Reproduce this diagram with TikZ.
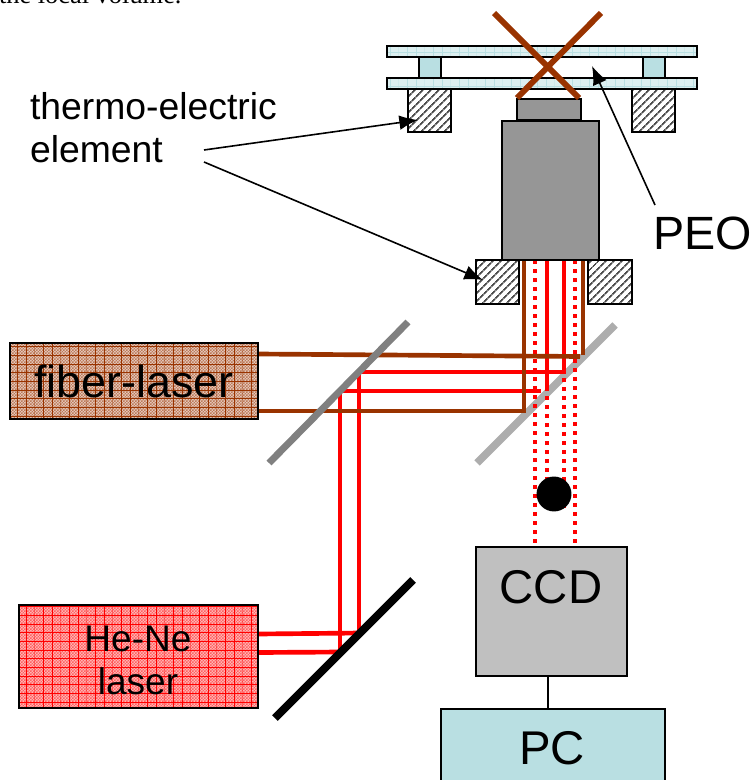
\documentclass[tikz,border=0pt]{standalone}
\usepackage{fontspec}
\setmainfont{Liberation Sans}
\newfontfamily\timesf{Liberation Serif}
\usetikzlibrary{patterns,patterns.meta,arrows.meta}
\definecolor{brownbeam}{HTML}{993300}
\definecolor{hegray}{HTML}{969696}
\definecolor{ccdgray}{HTML}{C0C0C0}
\definecolor{pcblue}{HTML}{B9DFE2}
\pgfdeclarepatternformonly{ditherp}{\pgfqpoint{-0.1pt}{-0.1pt}}{\pgfqpoint{2.35pt}{2.35pt}}{\pgfqpoint{2.25pt}{2.25pt}}{%
  \pgfpathrectangle{\pgfqpoint{0pt}{0pt}}{\pgfqpoint{1.125pt}{1.125pt}}%
  \pgfpathrectangle{\pgfqpoint{1.125pt}{1.125pt}}{\pgfqpoint{1.125pt}{1.125pt}}%
  \pgfusepath{fill}}
\pgfdeclarepatternformonly{gridp}{\pgfqpoint{-0.1pt}{-0.1pt}}{\pgfqpoint{6.6pt}{6.6pt}}{\pgfqpoint{6.5pt}{6.5pt}}{%
  \pgfsetlinewidth{0.4pt}%
  \pgfpathmoveto{\pgfqpoint{0pt}{0pt}}\pgfpathlineto{\pgfqpoint{6.5pt}{0pt}}%
  \pgfpathmoveto{\pgfqpoint{0pt}{0pt}}\pgfpathlineto{\pgfqpoint{0pt}{6.5pt}}%
  \pgfusepath{stroke}}
\newcommand{\pxbox}[6]{%
  \pgfmathsetmacro{\bw}{(#4-#2)*0.75}\pgfmathsetmacro{\bh}{(#5-#3)*0.75}%
  \node[boxbase,#6,minimum width=\bw pt,minimum height=\bh pt] (#1) at ({(#2+#4)/2},{(#3+#5)/2})}
\tikzset{
  boxbase/.style={draw=black,line width=1.5pt,inner sep=0pt,outer sep=0pt,align=center,text=black},
  plate/.style={line width=1.4pt,fill=pcblue!50!white,
    postaction={pattern=gridp,pattern color=pcblue},postaction={draw=black,line width=1.4pt}},
  hatched/.style={line width=1.5pt,preaction={fill=white},
    pattern={Lines[angle=45,distance=4pt,line width=1.4pt]},pattern color=black!70,
    postaction={draw=black,line width=1.5pt}},
  fiberbox/.style={preaction={fill=brownbeam!22!white},pattern=ditherp,pattern color=brownbeam!65!white,
    postaction={pattern=gridp,pattern color=brownbeam},postaction={draw=black,line width=1.6pt}},
  hebox/.style={preaction={fill=red!25!white},pattern=ditherp,pattern color=red!62!white,
    postaction={pattern=gridp,pattern color=red},postaction={draw=black,line width=1.5pt}},
  brownb/.style={draw=brownbeam,line width=3.5pt},
  redb/.style={draw=red,line width=3.5pt},
  reddot/.style={draw=red,line width=3.2pt,dash pattern=on 3pt off 3.75pt},
  lab/.style={inner sep=0pt,outer sep=0pt,anchor=base west,text=black},
  lead/.style={draw=black,line width=1.2pt,-{Latex[length=14pt,width=11pt]}},
}
\begin{document}
\begin{tikzpicture}[x=0.75pt,y=-0.75pt]
\clip (0,0) rectangle (753,780);
\fill[white] (0,0) rectangle (753,780);
\node[lab,font=\timesf\fontsize{19.8}{22}\selectfont] (caption) at (-1,4) {the local volume.};

% optical mirror behind the beams
\coordinate (m2a) at (615,325); \coordinate (m2b) at (477,463);
\draw[draw=ccdgray!90!black,line width=5.6pt] (m2a) -- (m2b);

% dotted probe beam
\foreach \n/\x/\ya/\yb in {a/535/260/547, b/575/260/547, c/547/333/510, d/564/333/510}{
  \coordinate (dt\n) at (\x,\ya); \coordinate (db\n) at (\x,\yb);
  \draw[reddot] (dt\n) -- (db\n);
}
% fibre beam
\coordinate (fa) at (258,354); \coordinate (fb) at (580,356.5);
\coordinate (fc) at (258,411); \coordinate (fd) at (525.5,411);
\coordinate (fe) at (524,260); \coordinate (ff) at (583,260); \coordinate (fg) at (583,355);
\coordinate (fh) at (524,413);
% He-Ne beam
\coordinate (ha) at (258,634); \coordinate (hb) at (361,633);
\coordinate (hc) at (258,652.5); \coordinate (hd) at (342,652);
\coordinate (he) at (359,372); \coordinate (hf) at (359,634);
\coordinate (hg) at (340,391); \coordinate (hh) at (340,656);
\coordinate (hi) at (343,391); \coordinate (hj) at (541,391);
\coordinate (hk) at (361,372); \coordinate (hl) at (566,372);
\coordinate (hm) at (547,260); \coordinate (hn) at (547,391);
\coordinate (ho) at (564,260); \coordinate (hp) at (564,373.5);
\draw[redb] (he) -- (hf);
\draw[redb] (hg) -- (hh);
\draw[redb] (ha) -- (hb);
\draw[redb] (hc) -- (hd);
\draw[redb] (hi) -- (hj);
\draw[redb] (hk) -- (hl);
\draw[redb] (hm) -- (hn);
\draw[redb] (ho) -- (hp);
\draw[brownb] (fa) -- (fb);
\draw[brownb] (fc) -- (fd);
\draw[brownb] (fe) -- (fh);
\draw[brownb] (ff) -- (fg);

% mirrors on top of beams
\coordinate (m1a) at (408,322); \coordinate (m1b) at (269,463);
\draw[draw=black!50,line width=5.2pt] (m1a) -- (m1b);
\coordinate (m3a) at (413,580); \coordinate (m3b) at (275,718);
\draw[draw=black,line width=6pt] (m3a) -- (m3b);

% lasers
\pxbox{fiber}{10}{343}{258}{419}{fiberbox}{\fontsize{33.7}{38}\selectfont fiber-laser};
\pxbox{hene}{19}{605}{258}{708}{hebox}{};
\node[inner sep=0pt,align=center,text=black,font=\fontsize{27.8}{32.3}\selectfont] (henelab) at (138,660) {He-Ne\\laser};

% sample stage
\pxbox{topplate}{387}{46}{697}{57}{plate}{};
\pxbox{botplate}{387}{78}{697}{89}{plate}{};
\pxbox{spacerl}{419}{57}{441}{78}{fill=pcblue,line width=1.2pt}{};
\pxbox{spacerr}{643}{57}{665}{78}{fill=pcblue,line width=1.2pt}{};
\pxbox{teul}{408}{89}{451}{132}{hatched}{};
\pxbox{teur}{632}{89}{675}{132}{hatched}{};
\pxbox{objtop}{517}{99}{581}{120.5}{fill=hegray,line width=1.5pt}{};
\pxbox{objbody}{502}{121}{599}{260}{fill=hegray,line width=1.5pt}{};
\pxbox{tell}{476}{260}{519}{304}{hatched}{};
\pxbox{telr}{588}{260}{632}{304}{hatched}{};

% cross
\coordinate (xa) at (494,13); \coordinate (xb) at (579,98);
\coordinate (xc) at (601,13); \coordinate (xd) at (517,98);
\draw[draw=brownbeam,line width=4.4pt] (xa) -- (xb);
\draw[draw=brownbeam,line width=4.4pt] (xc) -- (xd);

% particle
\node[circle,fill=black,inner sep=0pt,minimum size=26.2pt] (ball) at (554,494) {};

% camera
\pxbox{ccd}{476}{547}{627}{676}{fill=ccdgray}{};
\node[inner sep=0pt,text=black,font=\fontsize{35.5}{40}\selectfont] (ccdlab) at (551,587) {CCD};
\pxbox{pc}{441}{709}{665}{790}{fill=pcblue}{};
\node[inner sep=0pt,text=black,font=\fontsize{35.5}{40}\selectfont] (pclab) at (552,748) {PC};
\coordinate (wire) at (548,690);
\draw[line width=1.1pt] (wire|-ccd.south) -- (wire|-pc.north);

% labels
\node[lab,font=\fontsize{28}{36}\selectfont] (te1) at (30,120) {thermo-electric};
\node[lab,font=\fontsize{28}{36}\selectfont] (te2) at (30,163) {element};
\node[lab,font=\fontsize{35}{40}\selectfont] (peo) at (653,250) {PEO};

% leader arrows
\coordinate (lsa) at (204,150); \coordinate (lta) at (418,120);
\coordinate (lsb) at (204,162); \coordinate (ltb) at (483,280);
\coordinate (lsc) at (655,205); \coordinate (ltc) at (592,66);
\draw[lead] (lsa) -- (lta);
\draw[lead] (lsb) -- (ltb);
\draw[lead] (lsc) -- (ltc);
\end{tikzpicture}
\end{document}
